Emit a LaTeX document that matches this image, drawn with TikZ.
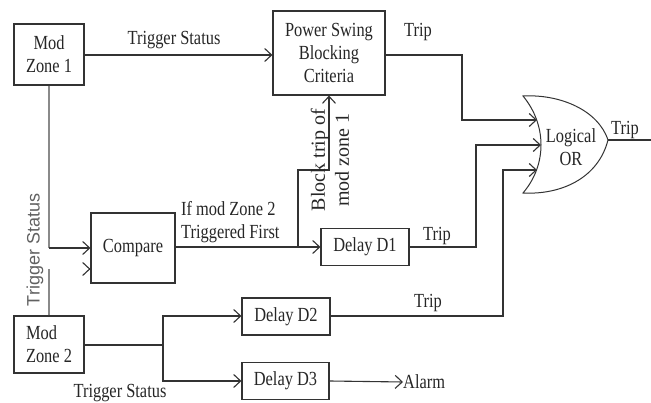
\documentclass[tikz,border=0pt]{standalone}
\usepackage{fontspec}
\setmainfont[FakeStretch=0.82]{Liberation Serif}
\newfontfamily\uprightserif{Liberation Serif}
\newfontfamily\uprightsans{Liberation Sans}
\usetikzlibrary{arrows.meta,calc}
\definecolor{ink}{HTML}{262626}
\definecolor{wire}{HTML}{333333}
\definecolor{softwire}{HTML}{8A8A8A}
\tikzset{
  block/.style={draw=wire, line width=1.1pt, fill=white, inner sep=0pt, align=center,
    text=ink, font=\fontsize{20}{23}\selectfont},
  lbl/.style={text=ink, inner sep=0pt, font=\fontsize{20}{23}\selectfont},
  vlbl/.style={text=ink, inner sep=0pt, rotate=90, align=center,
    font=\uprightserif\fontsize{20}{24}\selectfont},
  link/.style={draw=wire, line width=1.1pt},
  flow/.style={link, -{Straight Barb[length=7pt,width=13pt,line width=1.1pt]}},
  softlink/.style={draw=softwire, line width=1.1pt},
}
\begin{document}
\begin{tikzpicture}[x=1pt,y=-1pt]
\useasboundingbox (0,0) rectangle (651,403);

% blocks
\node[block, minimum width=70pt, minimum height=61pt] (mz1) at (49,54.5) {Mod\\Zone 1};
\node[block, minimum width=112pt, minimum height=84pt] (psb) at (329,53) {Power Swing\\Blocking\\Criteria};
\node[block, minimum width=84pt, minimum height=70pt] (cmp) at (133,248) {Compare};
\node[block, minimum width=88pt, minimum height=37pt] (d1) at (365,247) {Delay D1};
\node[block, minimum width=88pt, minimum height=37pt] (d2) at (286,316.5) {Delay D2};
\node[block, minimum width=87pt, minimum height=37pt] (d3) at (285.5,381) {Delay D3};
\node[block, minimum width=70pt, minimum height=57pt, align=left] (mz2) at (49,344.5) {Mod\\Zone 2};

% OR gate
\coordinate (orA) at (523,96);
\coordinate (orB) at (523,193);
\coordinate (orT) at (608,140);
\draw[link, line width=1pt, fill=white] (orA) .. controls (547,125) and (547,165) .. (orB)
  .. controls (560,195) and (598,179) .. (orT)
  .. controls (598,110) and (560,94) .. (orA) -- cycle;
\node[lbl, align=center] (orl) at (571,147) {Logical\\OR};
\coordinate (in1) at (537,120);
\coordinate (in2) at (541,145);
\coordinate (in3) at (537,170);
\coordinate (out) at (660,140);

% mod zone 1 to power swing blocking
\draw[flow] (mz1.east |- 0,55) -- (psb.west |- 0,55);
\node[lbl] (ts1) at (174,40) {Trigger Status};

% power swing blocking to OR
\draw[flow] (psb.east |- 0,55) -- (462,55) -- (462,120) -- (in1);
\node[lbl] (trip0) at (418,32) {Trip};

% trigger status into compare
\coordinate (c1) at (49,248);
\coordinate (c2) at (49,269);
\draw[softlink] (mz1.south) -- (c1);
\draw[flow] (c1) -- (cmp.west |- c1);
\draw[softlink] (mz2.north) -- (c2);
\draw[flow] ($(cmp.west |- c2)+(-0.5,0)$) -- (cmp.west |- c2);
\node[text=softwire!70!black, inner sep=0pt, rotate=90, font=\uprightsans\fontsize{18}{20}\selectfont]
  (ts2) at (35,250) {Trigger Status};

% compare to delay D1 and blocking branch
\coordinate (br) at (298,247);
\draw[flow] (cmp.east |- br) -- (d1.west |- br);
\node[lbl, align=left, anchor=south west] (first) at (181,243) {If mod Zone 2\\Triggered First};
\draw[flow] (br) -- (298,170) -- (329,170) -- (psb.south);
\node[vlbl] (blk) at (330,160) {Block trip of\\mod zone 1};

% delays to OR
\draw[flow] (d1.east |- br) -- (476,247) -- (476,145) -- (in2);
\node[lbl] (trip1) at (437,236) {Trip};
\draw[flow] (d2.east |- 0,316) -- (503,316) -- (503,170) -- (in3);
\node[lbl] (trip2) at (428,303) {Trip};

% OR output
\draw[flow] (orT) -- (out);
\node[lbl] (trip3) at (625,130) {Trip};

% mod zone 2 fan-out
\coordinate (fan) at (163,345);
\draw[link] (mz2.east |- fan) -- (fan);
\draw[flow] (fan) -- (163,316) -- (d2.west |- 0,316);
\draw[flow] (fan) -- (163,381) -- (d3.west);
\node[lbl] (ts3) at (120,393.5) {Trigger Status};

% alarm
\node[lbl, anchor=west] (alarm) at (403,382) {Alarm};
\draw[flow] (d3.east) -- (alarm.west);
\end{tikzpicture}
\end{document}
